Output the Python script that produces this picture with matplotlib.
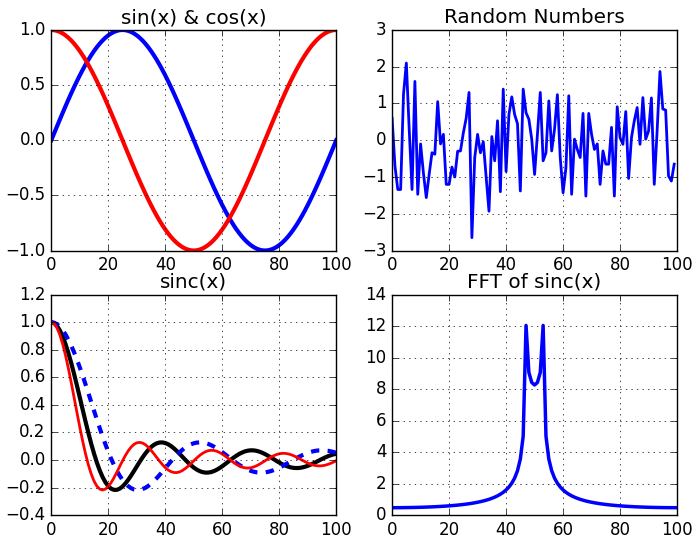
import numpy as np
import matplotlib
matplotlib.use("Agg")
import matplotlib.pyplot as plt

plt.style.use('classic')
plt.rcParams['figure.facecolor'] = 'white'
plt.rcParams['savefig.facecolor'] = 'white'

# sin & cos over one period
x = np.linspace(0, 100, 101)
period = 100.0

# random numbers
rand_vals = [0.6, -0.7, -1.34, -1.34, 1.25, 2.1, 0.3, -1.34, 1.6, -1.47,
             -0.1, -0.9, -1.56, -0.93, -0.34, -0.38, 1.05, -0.1, 0.16, -1.2,
             -1.2, -0.73, -1.0, -0.3, -0.29, 0.2, 0.6, 1.3, -2.65, -0.47,
             0.16, -0.34, -0.04, -1.0, -1.93, 0.1, -0.56, 0.53, -1.4, 1.39,
             -0.85, 0.7, 1.18, 0.7, 0.45, -1.38, 1.39, 0.75, 0.57, 0.03,
             -0.93, 0.16, 1.3, -0.56, -0.34, 1.07, -0.29, 0.3, 1.24, -0.47,
             -1.43, -0.75, 1.21, -1.47, 0.03, -0.25, -0.47, 0.73, -1.52, 0.73,
             0.16, -0.25, -0.1, -1.2, -0.29, -0.65, -0.65, 0.35, -1.52, 0.91,
             0.07, -0.11, 0.78, -1.04, 0.07, 0.53, 0.89, -0.11, 1.16, 0.03,
             0.25, 1.15, -1.2, 0.25, 1.87, 0.85, 0.82, -0.97, -1.11, -0.65]

# sinc scales: sin(x/a)/(x/a)
sinc_scales = [5, 6.75, 4]
sinc_styles = [('k', '-', 3), ('b', '--', 3), ('r', '-', 2)]

fig, axes = plt.subplots(2, 2, figsize=(6.93, 5.35), dpi=100)
fig.subplots_adjust(left=0.074, right=0.977, bottom=0.037, top=0.944,
                    wspace=0.196, hspace=0.2)
ax0, ax1, ax2, ax3 = axes.ravel()

ax0.plot(x, np.sin(2 * np.pi * x / period), 'b-', lw=3)
ax0.plot(x, np.cos(2 * np.pi * x / period), 'r-', lw=3)
ax0.set_title('sin(x) & cos(x)')
ax0.set_xlim(0, 100)
ax0.set_ylim(-1, 1)

ax1.plot(np.arange(len(rand_vals)), rand_vals, 'b-', lw=2)
ax1.set_title('Random Numbers')
ax1.set_xlim(0, 100)
ax1.set_ylim(-3, 3)

sincs = []
for a, (c, ls, lw) in zip(sinc_scales, sinc_styles):
    y = np.sinc(x / (a * np.pi))
    sincs.append(y)
    ax2.plot(x, y, color=c, ls=ls, lw=lw)
ax2.set_title('sinc(x)')
ax2.set_xlim(0, 100)
ax2.set_ylim(-0.4, 1.2)

spec = np.abs(np.fft.fftshift(np.fft.fft(sincs[0])))
ax3.plot(np.arange(len(spec)), spec, 'b-', lw=2.5)
ax3.set_title('FFT of sinc(x)')
ax3.set_xlim(0, 100)
ax3.set_ylim(0, 14)

for ax in axes.ravel():
    ax.grid(True)

fig.savefig('out.png', dpi=100)
